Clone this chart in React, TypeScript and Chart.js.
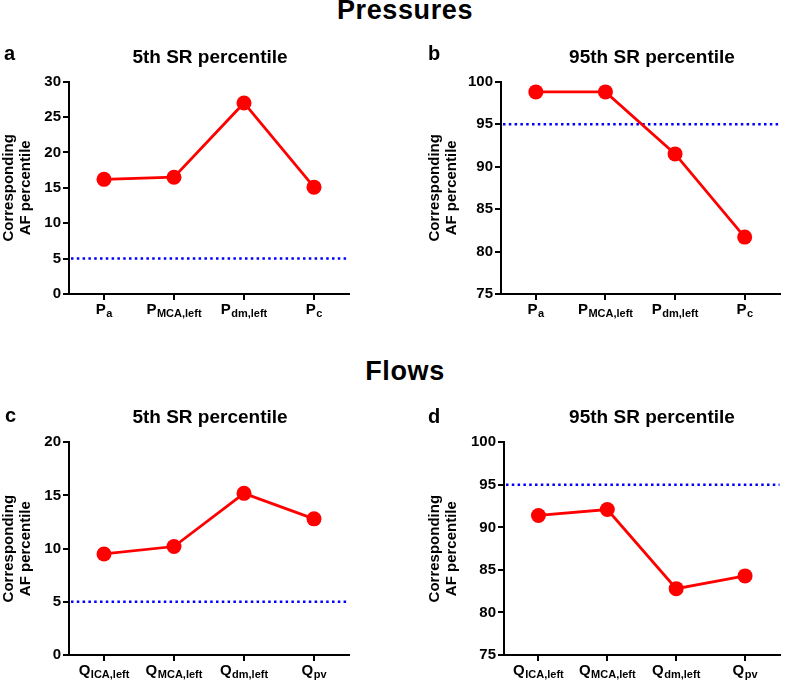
import React, { useEffect, useRef } from "react";
import { Chart, registerables } from "chart.js";

Chart.register(...registerables);

const FONT = '"Liberation Sans", Arial, Helvetica, sans-serif';

// Categories (main symbol + subscript)
const pressureSymbols = ["P", "P", "P", "P"];
const pressureSubscripts = ["a", "MCA,left", "dm,left", "c"];
const flowSymbols = ["Q", "Q", "Q", "Q"];
const flowSubscripts = ["ICA,left", "MCA,left", "dm,left", "pv"];

// Series values (corresponding AF percentile)
const pressures5th = [16.2, 16.5, 27.0, 15.1];
const pressures95th = [98.8, 98.8, 91.5, 81.7];
const flows5th = [9.5, 10.2, 15.2, 12.8];
const flows95th = [91.4, 92.1, 82.8, 84.3];

// Reference thresholds
const lowThreshold = 5;
const highThreshold = 95;

// Y axis ranges [min, max] and tick step
const pressures5thRange = [0, 30];
const flows5thRange = [0, 20];
const upperRange = [75, 100];
const yTickStep = 5;

const yTitleLines = ["Corresponding", "AF percentile"];

type PanelProps = {
  left: number;
  top: number;
  width: number;
  height: number;
  yWidth: number;
  xHeight: number;
  padTop: number;
  padRight: number;
  symbols: string[];
  subscripts: string[];
  values: number[];
  threshold: number;
  range: number[];
  titleX1: number;
  titleX2: number;
};

function Panel(p: PanelProps) {
  const ref = useRef<HTMLCanvasElement>(null);
  useEffect(() => {
    if (!ref.current) return;
    const labels = p.symbols.map((s, i) => s + p.subscripts[i]);
    const thresholdPlugin = {
      id: "threshold",
      beforeDatasetsDraw(chart: any) {
        const { ctx, chartArea, scales } = chart;
        const y = scales.y.getPixelForValue(p.threshold);
        ctx.save();
        ctx.strokeStyle = "#0000ff";
        ctx.lineWidth = 2.5;
        ctx.setLineDash([2.5, 3.3]);
        ctx.beginPath();
        ctx.moveTo(chartArea.left + 2, y);
        ctx.lineTo(chartArea.right, y);
        ctx.stroke();
        ctx.restore();
      },
    };
    const labelPlugin = {
      id: "subLabels",
      afterDraw(chart: any) {
        const { ctx, scales, chartArea } = chart;
        const xs = scales.x;
        ctx.save();
        ctx.fillStyle = "#000";
        ctx.textBaseline = "alphabetic";
        ctx.textAlign = "left";
        p.symbols.forEach((sym, i) => {
          const cx = xs.getPixelForValue(i);
          ctx.font = `bold 15px ${FONT}`;
          const w1 = ctx.measureText(sym).width;
          ctx.font = `bold 11px ${FONT}`;
          const w2 = ctx.measureText(p.subscripts[i]).width;
          const x0 = cx - (w1 + w2 + 0.5) / 2;
          const base = xs.top + 20;
          ctx.font = `bold 15px ${FONT}`;
          ctx.fillText(sym, x0, base);
          ctx.font = `bold 11px ${FONT}`;
          ctx.fillText(p.subscripts[i], x0 + w1 + 0.5, base + 3);
        });
        const cy = (chartArea.top + chartArea.bottom) / 2;
        ctx.font = `bold 15px ${FONT}`;
        ctx.textAlign = "center";
        [p.titleX1, p.titleX2].forEach((bx, k) => {
          ctx.save();
          ctx.translate(bx, cy);
          ctx.rotate(-Math.PI / 2);
          ctx.fillText(yTitleLines[k], 0, 0);
          ctx.restore();
        });
        ctx.restore();
      },
    };
    const chart = new Chart(ref.current, {
      type: "line",
      data: {
        labels,
        datasets: [
          {
            data: p.values,
            borderColor: "#ff0000",
            backgroundColor: "#ff0000",
            borderWidth: 2.8,
            pointRadius: 7.5,
            pointHoverRadius: 7.5,
            pointBorderWidth: 0,
            pointBackgroundColor: "#ff0000",
            tension: 0,
            clip: false as any,
          },
        ],
      },
      options: {
        responsive: false,
        animation: false,
        events: [],
        layout: { padding: { top: p.padTop, right: p.padRight, left: 0, bottom: 0 } },
        plugins: { legend: { display: false }, tooltip: { enabled: false } },
        scales: {
          x: {
            type: "category",
            offset: true,
            grid: {
              display: true,
              drawOnChartArea: false,
              drawTicks: true,
              tickLength: 6,
              color: "#000",
              lineWidth: 2,
            },
            border: { display: true, color: "#000", width: 2 },
            ticks: { display: false },
            afterFit: (s: any) => {
              s.height = p.xHeight;
            },
          },
          y: {
            type: "linear",
            min: p.range[0],
            max: p.range[1],
            grid: {
              display: true,
              drawOnChartArea: false,
              drawTicks: true,
              tickLength: 6,
              color: "#000",
              lineWidth: 2,
            },
            border: { display: true, color: "#000", width: 2 },
            ticks: {
              stepSize: yTickStep,
              color: "#000",
              padding: 2,
              font: { family: FONT, size: 15, weight: "bold" },
            },
            afterFit: (s: any) => {
              s.width = p.yWidth;
            },
          },
        },
      } as any,
      plugins: [thresholdPlugin, labelPlugin],
    });
    return () => chart.destroy();
  }, []);
  return (
    <canvas
      ref={ref}
      width={p.width}
      height={p.height}
      style={{ position: "absolute", left: p.left, top: p.top, width: p.width, height: p.height }}
    />
  );
}

function Text(props: {
  x: number;
  baseline: number;
  size: number;
  center?: boolean;
  spacing?: number;
  children: React.ReactNode;
}) {
  const { x, baseline, size, center, spacing, children } = props;
  return (
    <div
      style={{
        position: "absolute",
        left: x,
        top: baseline - 0.8465 * size,
        fontFamily: FONT,
        fontWeight: "bold",
        fontSize: size,
        lineHeight: `${size}px`,
        whiteSpace: "nowrap",
        letterSpacing: spacing ? `${spacing}px` : undefined,
        transform: center ? "translateX(-50%)" : undefined,
        color: "#000",
      }}
    >
      {children}
    </div>
  );
}

export default function App() {
  return (
    <div
      style={{
        position: "absolute",
        left: 0,
        top: 0,
        width: 787,
        height: 681,
        overflow: "hidden",
        background: "#fff",
      }}
    >
      <Panel
        left={0}
        top={60}
        width={393}
        height={270}
        yWidth={69}
        xHeight={36}
        padTop={21.7}
        padRight={44}
        symbols={pressureSymbols}
        subscripts={pressureSubscripts}
        values={pressures5th}
        threshold={lowThreshold}
        range={pressures5thRange}
        titleX1={13}
        titleX2={30}
      />
      <Panel
        left={393}
        top={60}
        width={394}
        height={270}
        yWidth={108}
        xHeight={36}
        padTop={21.7}
        padRight={4}
        symbols={pressureSymbols}
        subscripts={pressureSubscripts}
        values={pressures95th}
        threshold={highThreshold}
        range={upperRange}
        titleX1={46}
        titleX2={63}
      />
      <Panel
        left={0}
        top={420}
        width={393}
        height={261}
        yWidth={69}
        xHeight={26}
        padTop={22.3}
        padRight={44}
        symbols={flowSymbols}
        subscripts={flowSubscripts}
        values={flows5th}
        threshold={lowThreshold}
        range={flows5thRange}
        titleX1={13}
        titleX2={30}
      />
      <Panel
        left={393}
        top={420}
        width={394}
        height={261}
        yWidth={111}
        xHeight={26}
        padTop={22.3}
        padRight={5}
        symbols={flowSymbols}
        subscripts={flowSubscripts}
        values={flows95th}
        threshold={highThreshold}
        range={upperRange}
        titleX1={46}
        titleX2={63}
      />
      <Text x={405} baseline={20} size={27} center spacing={0.6}>Pressures</Text>
      <Text x={405} baseline={381} size={27} center spacing={0.6}>Flows</Text>
      <Text x={210} baseline={63} size={19} center>5th SR percentile</Text>
      <Text x={652} baseline={63} size={19} center>95th SR percentile</Text>
      <Text x={210} baseline={423} size={19} center>5th SR percentile</Text>
      <Text x={652} baseline={423} size={19} center>95th SR percentile</Text>
      <Text x={4} baseline={60} size={20}>a</Text>
      <Text x={428} baseline={60} size={20}>b</Text>
      <Text x={5} baseline={422} size={20}>c</Text>
      <Text x={428} baseline={423} size={20}>d</Text>
    </div>
  );
}
